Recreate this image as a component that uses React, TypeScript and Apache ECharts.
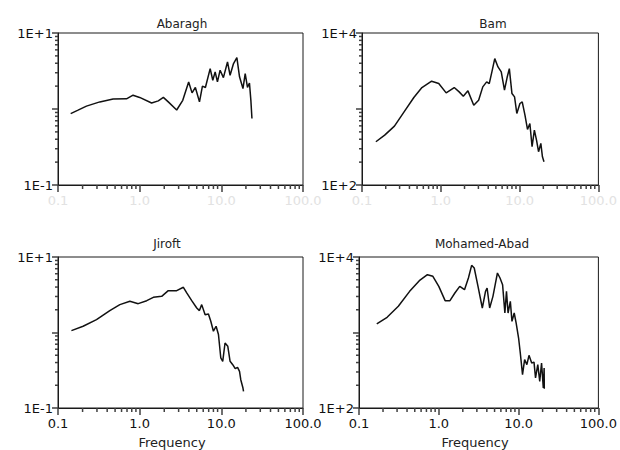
import React, { useEffect, useRef } from "react";
import * as echarts from "echarts";

const titles = ["Abaragh", "Bam", "Jiroft", "Mohamed-Abad"];
const xTickLabels = ["0.1", "1.0", "10.0", "100.0"];
const xMajor = [0.1, 1, 10, 100];
const xMinor = [0.2, 0.3, 0.4, 0.5, 0.6, 0.7, 0.8, 0.9, 2, 3, 4, 5, 6, 7, 8, 9, 20, 30, 40, 50, 60, 70, 80, 90];
const yMin = [0.1, 100, 0.1, 100];
const yMax = [10, 10000, 10, 10000];
const yTopLabels = ["1E+1", "1E+4", "1E+1", "1E+4"];
const yBottomLabels = ["1E-1", "1E+2", "1E-1", "1E+2"];
const xAxisName = "Frequency";

const abaraghFreq = [0.143, 0.176, 0.223, 0.325, 0.473, 0.69, 0.83, 1.0, 1.4, 1.69, 1.95, 2.24, 2.84, 3.37, 3.98, 4.38, 4.81, 5.4, 5.87, 6.38, 7.3, 7.86, 8.4, 8.96, 9.66, 10.6, 11.9, 12.8, 14.1, 15.5, 16.7, 18.4, 19.6, 20.9, 22.1, 23.0, 23.7];
const abaraghAmp = [0.87, 0.966, 1.09, 1.24, 1.35, 1.36, 1.52, 1.42, 1.2, 1.28, 1.42, 1.24, 0.97, 1.3, 2.27, 1.63, 1.92, 1.24, 2.0, 1.92, 3.4, 2.39, 3.08, 2.27, 3.24, 2.59, 4.16, 2.78, 3.96, 4.74, 2.65, 1.86, 2.93, 1.92, 2.2, 1.3, 0.75];

const bamFreq = [0.15, 0.194, 0.258, 0.342, 0.455, 0.576, 0.765, 0.942, 1.17, 1.48, 1.71, 1.93, 2.21, 2.62, 3.02, 3.41, 3.82, 4.12, 4.45, 4.84, 5.32, 5.85, 6.43, 6.94, 7.41, 8.0, 8.63, 9.22, 10.1, 10.8, 11.7, 12.6, 13.5, 14.4, 15.4, 16.4, 17.4, 18.6, 19.5, 20.4];
const bamAmp = [371, 453, 595, 918, 1416, 1916, 2320, 2160, 1630, 1916, 1680, 1474, 1733, 1122, 1306, 1954, 2274, 2160, 3076, 4603, 3580, 3076, 1767, 2593, 3404, 1597, 1445, 873, 1181, 1242, 830, 538, 645, 319, 527, 390, 274, 352, 235, 202];

const jiroftFreq = [0.146, 0.203, 0.296, 0.431, 0.572, 0.759, 0.96, 1.22, 1.47, 1.86, 2.24, 2.84, 3.43, 3.77, 4.34, 5.0, 5.39, 5.75, 6.33, 6.95, 7.43, 8.0, 8.63, 9.22, 9.85, 10.4, 11.1, 12.0, 12.8, 13.8, 14.8, 15.8, 16.7, 17.3, 18.4, 18.7];
const jiroftAmp = [1.06, 1.21, 1.48, 1.95, 2.34, 2.59, 2.41, 2.64, 2.92, 3.01, 3.58, 3.58, 3.97, 3.34, 2.64, 2.11, 1.95, 2.34, 1.72, 1.76, 1.41, 1.04, 1.21, 0.94, 0.46, 0.415, 0.726, 0.656, 0.415, 0.375, 0.332, 0.346, 0.306, 0.237, 0.184, 0.166];

const mohamedFreq = [0.167, 0.225, 0.311, 0.431, 0.57, 0.72, 0.843, 1.0, 1.2, 1.38, 1.59, 1.83, 2.1, 2.35, 2.58, 2.78, 3.1, 3.51, 3.85, 4.03, 4.34, 4.77, 5.09, 5.43, 5.85, 6.3, 6.73, 7.05, 7.38, 7.88, 8.26, 8.81, 9.31, 10.0, 10.5, 11.2, 11.9, 12.7, 13.5, 14.6, 15.6, 16.3, 17.4, 18.4, 19.4, 20.4, 20.9, 21.0];
const mohamedAmp = [1297, 1589, 2222, 3510, 4860, 5830, 5545, 4087, 2640, 2640, 3337, 4087, 3690, 5270, 7760, 7150, 4087, 2112, 3510, 3882, 2112, 3013, 4300, 6140, 5270, 4300, 1812, 3510, 1812, 2588, 1406, 1812, 1337, 845, 535, 277, 437, 375, 499, 395, 405, 250, 375, 225, 395, 184, 339, 180];

const freqs = [abaraghFreq, bamFreq, jiroftFreq, mohamedFreq];
const amps = [abaraghAmp, bamAmp, jiroftAmp, mohamedAmp];

const grids = [
  { left: 58, top: 33, width: 245, height: 152 },
  { left: 362, top: 33, width: 243, height: 152 },
  { left: 58, top: 257, width: 245, height: 151 },
  { left: 359, top: 257, width: 246, height: 151 },
];
const titleY = [24, 24, 244, 244];
const titleX = [182, 493, 167, 482];
const nameX = [172, 475];

const FONT = "DejaVu Sans";
const INK = "#1a1a1a";
const TICK = "#404040";

function yMinorTicks(min: number) {
  const out: number[] = [];
  for (const d of [min, min * 10]) {
    for (let k = 2; k <= 9; k++) out.push(+(d * k).toPrecision(6));
  }
  return out;
}

export default function App() {
  const ref = useRef<HTMLDivElement>(null);
  useEffect(() => {
    if (!ref.current) return;
    const chart = echarts.init(ref.current, null, { renderer: "svg" });
    const xAxis: any[] = [];
    const yAxis: any[] = [];
    const series: any[] = [];
    grids.forEach((g, i) => {
      const bottomRow = i >= 2;
      xAxis.push({
        type: "log",
        gridIndex: i,
        min: 0.1,
        max: 100,
        axisLine: { show: true, lineStyle: { color: INK, width: 1 } },
        axisTick: { show: true, length: 7, lineStyle: { color: TICK, width: 1.5 } },
        axisLabel: {
          show: true,
          margin: 9,
          fontSize: 13,
          fontFamily: FONT,
          color: bottomRow ? "#111" : "#e2e2e2",
          formatter: (v: number) => {
            const idx = xMajor.findIndex((m) => Math.abs(Math.log10(m) - Math.log10(v)) < 1e-6);
            return idx >= 0 ? xTickLabels[idx] : "";
          },
        },
        splitLine: { show: false },
      });
      yAxis.push({
        type: "log",
        gridIndex: i,
        min: yMin[i],
        max: yMax[i],
        axisLine: { show: true, lineStyle: { color: INK, width: 1 } },
        axisTick: { show: true, length: 6, lineStyle: { color: TICK, width: 1.5 } },
        axisLabel: {
          show: true,
          margin: 5,
          fontSize: 13,
          fontFamily: FONT,
          color: "#111",
          formatter: (v: number) => {
            if (Math.abs(Math.log10(v) - Math.log10(yMax[i])) < 1e-6) return yTopLabels[i];
            if (Math.abs(Math.log10(v) - Math.log10(yMin[i])) < 1e-6) return yBottomLabels[i];
            return "";
          },
        },
        splitLine: { show: false },
      });
      series.push({
        type: "line",
        xAxisIndex: i,
        yAxisIndex: i,
        showSymbol: false,
        symbol: "none",
        lineStyle: { color: "#111", width: 1.5 },
        data: freqs[i].map((f, k) => [f, amps[i][k]]),
      });
      series.push({
        type: "custom",
        xAxisIndex: i,
        yAxisIndex: i,
        clip: false,
        silent: true,
        data: xMinor.map((v) => [v, yMin[i]]),
        renderItem: (params: any, api: any) => {
          const p = api.coord([api.value(0), api.value(1)]);
          return {
            type: "line",
            shape: { x1: p[0], y1: p[1], x2: p[0], y2: p[1] + 4 },
            style: { stroke: TICK, lineWidth: 1.5 },
          };
        },
      });
      series.push({
        type: "custom",
        xAxisIndex: i,
        yAxisIndex: i,
        clip: false,
        silent: true,
        data: yMinorTicks(yMin[i]).map((v) => [0.1, v]),
        renderItem: (params: any, api: any) => {
          const p = api.coord([api.value(0), api.value(1)]);
          return {
            type: "line",
            shape: { x1: p[0] - 3, y1: p[1], x2: p[0], y2: p[1] },
            style: { stroke: TICK, lineWidth: 1.5 },
          };
        },
      });
    });

    const graphic: any[] = [];
    titles.forEach((t, i) => {
      graphic.push({
        type: "text",
        x: titleX[i],
        y: titleY[i],
        style: { text: t, align: "center", verticalAlign: "middle", font: `12px "${FONT}"`, fill: "#222" },
      });
    });
    nameX.forEach((x) => {
      graphic.push({
        type: "text",
        x,
        y: 442,
        style: { text: xAxisName, align: "center", verticalAlign: "middle", font: `13px "${FONT}"`, fill: "#222" },
      });
    });

    chart.setOption({
      animation: false,
      backgroundColor: "#fff",
      grid: grids.map((g) => ({ ...g, show: true, borderColor: INK, borderWidth: 1, backgroundColor: "transparent", containLabel: false })),
      xAxis,
      yAxis,
      series,
      graphic,
    });
    return () => chart.dispose();
  }, []);
  return <div ref={ref} style={{ position: "fixed", left: 0, top: 0, width: 620, height: 450 }} />;
}
